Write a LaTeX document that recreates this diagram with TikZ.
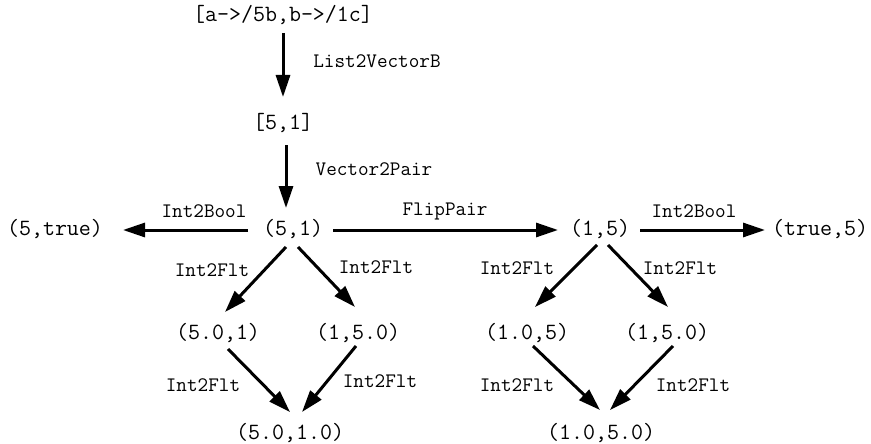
\documentclass[tikz,border=0pt]{standalone}
\usetikzlibrary{arrows.meta}
\begin{document}
\begin{tikzpicture}[x=1pt,y=-1pt,
  val/.style={inner sep=0pt,font=\ttfamily\fontsize{23.3}{27}\selectfont},
  lbl/.style={inner sep=0pt,font=\ttfamily\fontsize{20.6}{24}\selectfont},
  arr/.style={line width=3pt,-{Triangle[length=22pt,width=14pt]}}]
\useasboundingbox (0,0) rectangle (871,444);
% value nodes
\node[val] (top) at (283,15) {[a->/5b,b->/1c]};
\node[val] (vec) at (283,123) {[5,1]};
\node[val] (p51) at (293,229) {(5,1)};
\node[val] (p5t) at (55,229) {(5,true)};
\node[val] (p15) at (600,229) {(1,5)};
\node[val] (pt5) at (820,229) {(true,5)};
\node[val] (p501) at (218,333) {(5.0,1)};
\node[val] (p150a) at (358,333) {(1,5.0)};
\node[val] (p5010) at (290,433) {(5.0,1.0)};
\node[val] (p105) at (527,333) {(1.0,5)};
\node[val] (p150b) at (667,333) {(1,5.0)};
\node[val] (p1050) at (601,433) {(1.0,5.0)};
% labels
\node[lbl] (l1) at (377,61) {List2VectorB};
\node[lbl] (l2) at (374,169) {Vector2Pair};
\node[lbl] (l3) at (204,211) {Int2Bool};
\node[lbl] (l4) at (445,211) {FlipPair};
\node[lbl] (l5) at (694,211) {Int2Bool};
\node[lbl] (l6) at (212,270) {Int2Flt};
\node[lbl] (l7) at (376,267) {Int2Flt};
\node[lbl] (l8) at (203,385) {Int2Flt};
\node[lbl] (l9) at (380,381) {Int2Flt};
\node[lbl] (l10) at (517,268) {Int2Flt};
\node[lbl] (l11) at (680,268) {Int2Flt};
\node[lbl] (l12) at (517,385) {Int2Flt};
\node[lbl] (l13) at (693,385) {Int2Flt};
% arrows
\draw[arr] ([shift={(0,18)}]top.center) -- ([shift={(0,-26)}]vec.center);
\draw[arr] ([shift={(3,22)}]vec.center) -- ([shift={(-7,-21)}]p51.center);
\draw[arr] ([shift={(-45,1)}]p51.center) -- ([shift={(68,1)}]p5t.center);
\draw[arr] ([shift={(40,1)}]p51.center) -- ([shift={(-42,1)}]p15.center);
\draw[arr] ([shift={(40,1)}]p15.center) -- ([shift={(-55,1)}]pt5.center);
\draw[arr] ([shift={(-7,18)}]p51.center) -- ([shift={(7,-21)}]p501.center);
\draw[arr] ([shift={(5,18)}]p51.center) -- ([shift={(-3,-26)}]p150a.center);
\draw[arr] ([shift={(10,16)}]p501.center) -- ([shift={(0,-21)}]p5010.center);
\draw[arr] ([shift={(-2,13)}]p150a.center) -- ([shift={(12,-21)}]p5010.center);
\draw[arr] ([shift={(-3,16)}]p15.center) -- ([shift={(8,-26)}]p105.center);
\draw[arr] ([shift={(8,16)}]p15.center) -- ([shift={(1,-26)}]p150b.center);
\draw[arr] ([shift={(6,13)}]p105.center) -- ([shift={(-1,-23)}]p1050.center);
\draw[arr] ([shift={(6,13)}]p150b.center) -- ([shift={(9,-23)}]p1050.center);
\end{tikzpicture}
\end{document}
